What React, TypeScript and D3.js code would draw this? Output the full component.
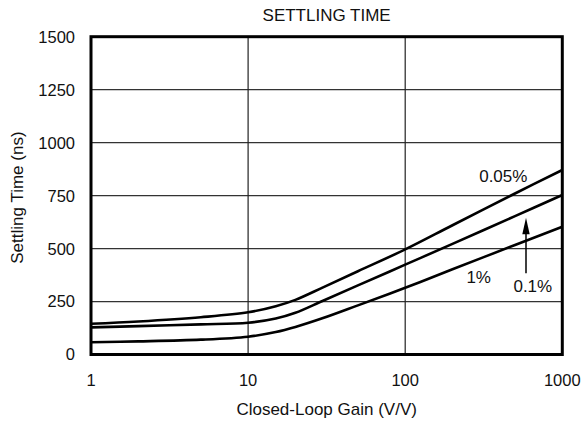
import React from "react";
import * as d3 from "d3";

const gains = [1, 2, 5, 10, 15, 20, 30, 50, 100, 200, 500, 1000];
const settle005 = [145, 156, 176, 199, 228, 258, 317, 393, 496, 610, 760, 871];
const settle01 = [128, 134, 142, 150, 170, 197, 254, 326, 424, 522, 653, 753];
const settle1 = [58, 62, 70, 84, 106, 130, 172, 232, 315, 402, 517, 603];
const xTicks = [1, 10, 100, 1000];
const yTicks = [0, 250, 500, 750, 1000, 1250, 1500];

const W = 583, H = 422;
const L = 91, R = 562.3, T = 36.7, B = 354.5;
const FONT = "'Liberation Sans', Arial, sans-serif";

export default function App() {
  const x = d3.scaleLog().domain([1, 1000]).range([L, R]);
  const y = d3.scaleLinear().domain([0, 1500]).range([B, T]);
  const line = d3
    .line<number>()
    .x((_, i) => x(gains[i]))
    .y((d) => y(d))
    .curve(d3.curveCatmullRom.alpha(0.5));
  const series = [settle005, settle01, settle1];
  return (
    <svg width={W} height={H} style={{ position: "absolute", left: 0, top: 0, background: "#fff" }} fontFamily={FONT}>
      <rect x={0} y={0} width={W} height={H} fill="#fff" />
      {yTicks.slice(1, -1).map((t) => (
        <line key={"gy" + t} x1={L} x2={R} y1={y(t)} y2={y(t)} stroke="#333" strokeWidth={1.2} />
      ))}
      {xTicks.slice(1, -1).map((t) => (
        <line key={"gx" + t} x1={x(t)} x2={x(t)} y1={T} y2={B} stroke="#222" strokeWidth={1.2} />
      ))}
      {series.map((s, i) => (
        <path key={i} d={line(s) || ""} fill="none" stroke="#000" strokeWidth={2.6} />
      ))}
      <rect x={L} y={T} width={R - L} height={B - T} fill="none" stroke="#000" strokeWidth={3} />
      {yTicks.map((t) => (
        <text key={"ty" + t} x={75} y={y(t)} dy="0.36em" textAnchor="end" fontSize={16.5} fill="#111">
          {t}
        </text>
      ))}
      {xTicks.map((t) => (
        <text key={"tx" + t} x={x(t)} y={386} textAnchor="middle" fontSize={16.5} fill="#111">
          {t}
        </text>
      ))}
      <text x={(L + R) / 2} y={20.7} textAnchor="middle" fontSize={17} fill="#111">
        SETTLING TIME
      </text>
      <text x={(L + R) / 2} y={415} textAnchor="middle" fontSize={17} fill="#111">
        Closed-Loop Gain (V/V)
      </text>
      <text
        transform={`translate(23,${(T + B) / 2 + 2}) rotate(-90)`}
        textAnchor="middle"
        fontSize={17}
        fill="#111"
      >
        Settling Time (ns)
      </text>
      <text x={503.3} y={181.7} textAnchor="middle" fontSize={17} fill="#111">0.05%</text>
      <text x={478.7} y={283.3} textAnchor="middle" fontSize={17} fill="#111">1%</text>
      <text x={532.8} y={291.7} textAnchor="middle" fontSize={17} fill="#111">0.1%</text>
      <line x1={526} x2={526} y1={273.3} y2={232} stroke="#000" strokeWidth={1.5} />
      <path d="M526,217.7 L522.3,234.3 L529.7,234.3 Z" fill="#000" />
    </svg>
  );
}
